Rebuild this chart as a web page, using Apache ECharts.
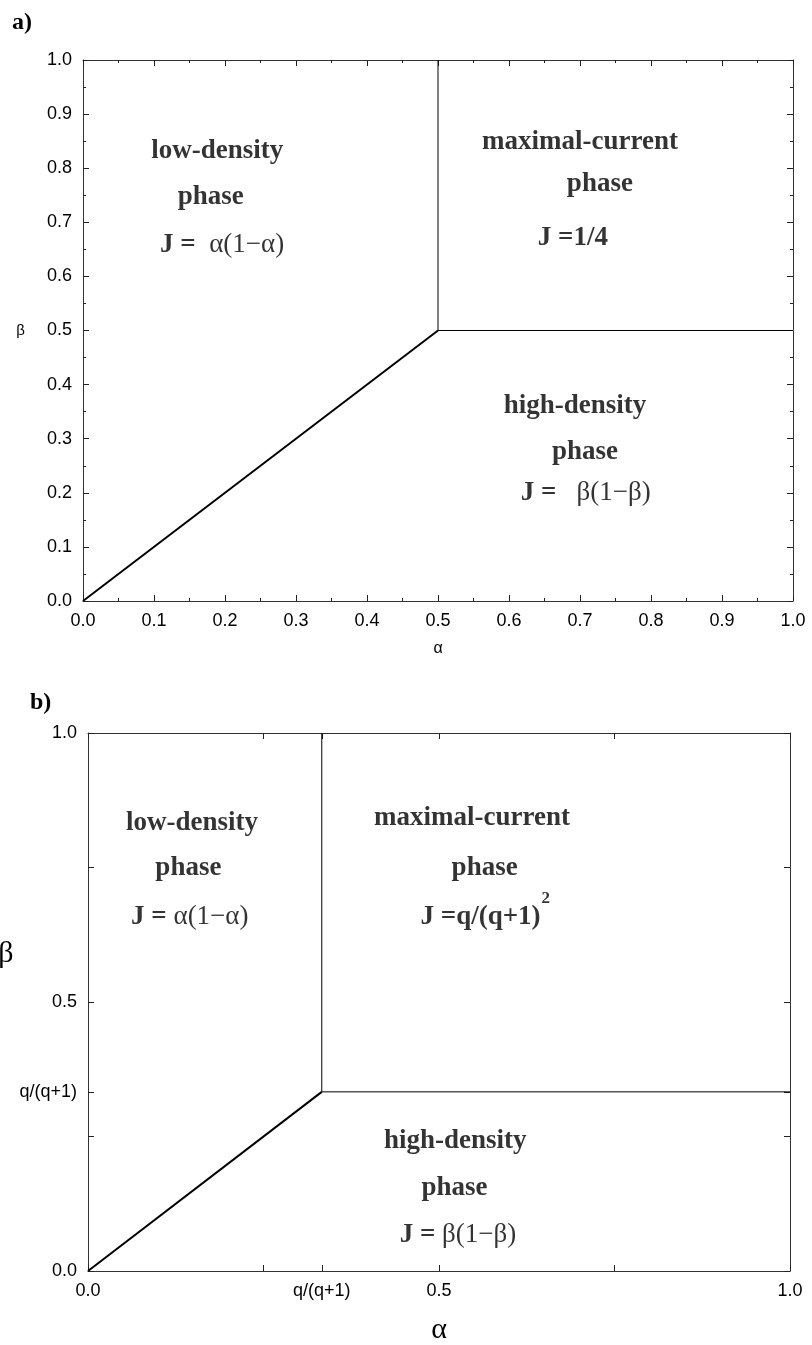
<!DOCTYPE html>
<html><head><meta charset="utf-8">
<script src="https://cdn.jsdelivr.net/npm/echarts@6/dist/echarts.min.js"></script>
<style>html,body{margin:0;padding:0;background:#fff}#c{width:812px;height:1345px}</style>
</head><body><div id="c"></div>
<script>
// ---- data ----
// panel a: TASEP phase boundaries
const diagA = [[0, 0], [0.5, 0.5]];
const vertA = [[0.5, 0.5], [0.5, 1.0]];
const horzA = [[0.5, 0.5], [1.0, 0.5]];
// panel b: q/(q+1) read as ~0.333
const diagB = [[0, 0], [0.333, 0.333]];
const vertB = [[0.333, 0.333], [0.333, 1.0]];
const horzB = [[0.333, 0.333], [1.0, 0.333]];
// panel b tick values and labels
const ticksB = [0, 0.25, 0.333, 0.5, 0.75, 1];
const labelValsB = [0, 0.333, 0.5, 1];
const labelTextsB = ['0.0', 'q/(q+1)', '0.5', '1.0'];
// annotation texts (in data coordinates)
const annotA = [
  [0.189, 0.832, '{b|low-density}'],
  [0.180, 0.746, '{b|phase}'],
  [0.196, 0.658, '{b|J =}{r|  α(1−α)}'],
  [0.700, 0.849, '{b|maximal-current}'],
  [0.728, 0.770, '{b|phase}'],
  [0.690, 0.670, '{b|J =1/4}'],
  [0.693, 0.360, '{b|high-density}'],
  [0.707, 0.275, '{b|phase}'],
  [0.708, 0.200, '{b|J =}{r|   β(1−β)}']
];
const annotB = [
  [0.148, 0.833, '{b|low-density}'],
  [0.143, 0.749, '{b|phase}'],
  [0.145, 0.658, '{b|J =}{r| α(1−α)}'],
  [0.547, 0.842, '{b|maximal-current}'],
  [0.565, 0.749, '{b|phase}'],
  [0.566, 0.658, '{b|J =q/(q+1)}{sup|2}'],
  [0.523, 0.242, '{b|high-density}'],
  [0.522, 0.155, '{b|phase}'],
  [0.527, 0.067, '{b|J =}{r| β(1−β)}']
];

// ---- chart ----
const serif = 'Liberation Serif';
const sans = 'Liberation Sans';
const rich = {
  b: { fontFamily: serif, fontWeight: 'bold', fontSize: 27, color: '#000' },
  r: { fontFamily: serif, fontSize: 27, color: '#000' },
  sup: { fontFamily: serif, fontWeight: 'bold', fontSize: 17, color: '#000', padding: [0, 0, 36, 1] }
};
const frameLine = { lineStyle: { color: '#333', width: 1 } };

function axisA(pos, withLabels) {
  return {
    type: 'value', gridIndex: 0, position: pos, min: 0, max: 1, interval: 0.1,
    axisLine: Object.assign({ show: true, onZero: false }, frameLine),
    axisTick: { show: true, inside: true, length: 6, lineStyle: { color: '#222' } },
    minorTick: { show: true, splitNumber: 2, length: 3, lineStyle: { color: '#222' } },
    splitLine: { show: false },
    axisLabel: withLabels ? { show: true, formatter: v => v.toFixed(1), fontFamily: sans, fontSize: 18, color: '#000', margin: 11 } : { show: false }
  };
}
function axisB(pos, withLabels) {
  return {
    type: 'value', gridIndex: 1, position: pos, min: 0, max: 1,
    axisLine: Object.assign({ show: true, onZero: false }, frameLine),
    axisTick: { show: true, inside: true, length: 6, customValues: ticksB, lineStyle: { color: '#222' } },
    splitLine: { show: false },
    axisLabel: withLabels ? {
      show: true, customValues: labelValsB, fontFamily: sans, fontSize: 18, color: '#000', margin: 11,
      formatter: v => { const i = labelValsB.findIndex(t => Math.abs(t - v) < 1e-6); return i >= 0 ? labelTextsB[i] : ''; }
    } : { show: false }
  };
}

const xA = axisA('bottom', true);
xA.name = 'α'; xA.nameLocation = 'middle'; xA.nameGap = 40;
xA.nameTextStyle = { fontFamily: sans, fontSize: 16, color: '#000' };
const yA = axisA('left', true);
yA.name = 'β'; yA.nameLocation = 'middle'; yA.nameRotate = 0; yA.nameGap = 58;
yA.nameTextStyle = { fontFamily: sans, fontSize: 15, color: '#000' };

const xB = axisB('bottom', true);
xB.name = 'α'; xB.nameLocation = 'middle'; xB.nameGap = 44;
xB.nameTextStyle = { fontFamily: serif, fontSize: 30, color: '#000' };
const yB = axisB('left', true);
yB.name = 'β\n\n\n'; yB.nameLocation = 'middle'; yB.nameRotate = 0; yB.nameGap = 52;
yB.nameTextStyle = { fontFamily: serif, fontSize: 30, lineHeight: 32, color: '#000' };

const lineSeries = (data, xi, yi, w) => ({
  type: 'line', data: data, xAxisIndex: xi, yAxisIndex: yi, symbol: 'none', silent: true,
  lineStyle: { color: '#000', width: w }, animation: false
});
const annotSeries = (arr, xi, yi) => ({
  type: 'scatter', xAxisIndex: xi, yAxisIndex: yi, symbolSize: 0, silent: true, animation: false,
  data: arr.map(a => ({ value: [a[0], a[1]], label: { formatter: a[2] } })),
  label: { show: true, position: 'inside', rich: rich, color: '#000', fontSize: 27, fontFamily: serif }
});

const option = {
  backgroundColor: '#fff',
  animation: false,
  title: [
    { text: 'a)', left: 12, top: 11, padding: 0, textStyle: { fontFamily: serif, fontWeight: 'bold', fontSize: 24, color: '#000' } },
    { text: 'b)', left: 30, top: 691, padding: 0, textStyle: { fontFamily: serif, fontWeight: 'bold', fontSize: 24, color: '#000' } }
  ],
  grid: [
    { left: 83, right: 19, top: 60, bottom: 744, containLabel: false, outerBoundsMode: 'none' },
    { left: 88, right: 22, top: 733, bottom: 74, containLabel: false, outerBoundsMode: 'none' }
  ],
  xAxis: [xA, axisA('top', false), xB, axisB('top', false)],
  yAxis: [yA, axisA('right', false), yB, axisB('right', false)],
  series: [
    lineSeries(diagA, 0, 0, 2), lineSeries(vertA, 0, 0, 1), lineSeries(horzA, 0, 0, 1),
    lineSeries(diagB, 2, 2, 2), lineSeries(vertB, 2, 2, 1), lineSeries(horzB, 2, 2, 1),
    annotSeries(annotA, 0, 0), annotSeries(annotB, 2, 2)
  ]
};
const chart = echarts.init(document.getElementById('c'), null, { renderer: 'canvas' });
chart.setOption(option);
</script></body></html>
